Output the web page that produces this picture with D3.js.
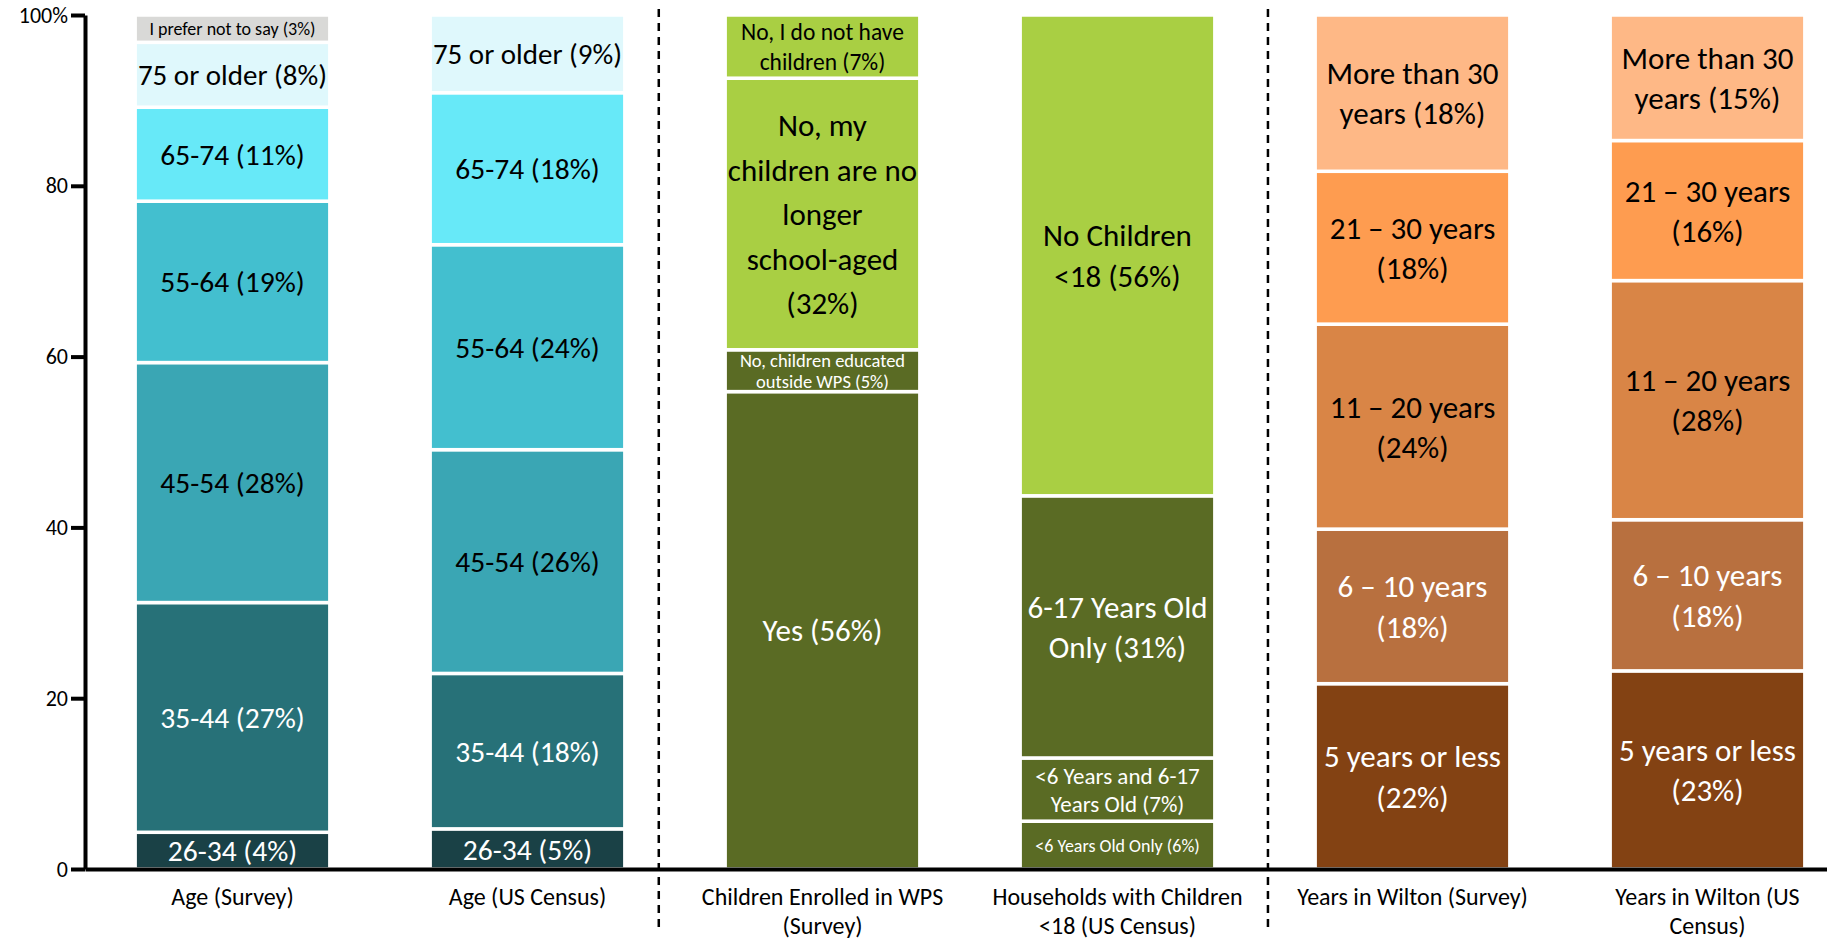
<!DOCTYPE html>
<html><head><meta charset="utf-8">
<script src="https://cdn.jsdelivr.net/npm/d3@7"></script>
<style>
body{margin:0;background:#fff;}
text{font-family:Carlito, Lato, "Open Sans", sans-serif;}
</style>
</head><body>
<svg id="c" width="1827" height="941"></svg>
<script>
// ---------- data ----------
const categories = ["Age (Survey)","Age (US Census)","Children Enrolled in WPS (Survey)","Households with Children <18 (US Census)","Years in Wilton (Survey)","Years in Wilton (US Census)"];
const categoryLines = [["Age (Survey)"],["Age (US Census)"],["Children Enrolled in WPS","(Survey)"],["Households with Children","<18 (US Census)"],["Years in Wilton (Survey)"],["Years in Wilton (US","Census)"]];
const yTicks = [0,20,40,60,80,100];
const separatorsAt = [1.445, 3.51]; // in category-index units

// segments listed bottom to top
const ageSurveyValues = [4.3, 26.9, 28.1, 18.9, 11.0, 7.6, 3.2];
const ageSurveyLabels = ["26-34 (4%)","35-44 (27%)","45-54 (28%)","55-64 (19%)","65-74 (11%)","75 or older (8%)","I prefer not to say (3%)"];

const ageCensusValues = [4.7, 18.2, 26.2, 24.0, 17.8, 9.1];
const ageCensusLabels = ["26-34 (5%)","35-44 (18%)","45-54 (26%)","55-64 (24%)","65-74 (18%)","75 or older (9%)"];

const childrenValues = [55.9, 4.9, 31.8, 7.4];
const childrenLabels = ["Yes (56%)","No, children educated\noutside WPS (5%)","No, my\nchildren are no\nlonger\nschool-aged\n(32%)","No, I do not have\nchildren (7%)"];

const householdValues = [5.6, 7.4, 30.7, 56.3];
const householdLabels = ["<6 Years Old Only (6%)","<6 Years and 6-17\nYears Old (7%)","6-17 Years Old\nOnly (31%)","No Children\n<18 (56%)"];

const yearsSurveyValues = [21.7, 18.1, 24.0, 17.9, 18.3];
const yearsSurveyLabels = ["5 years or less\n(22%)","6 – 10 years\n(18%)","11 – 20 years\n(24%)","21 – 30 years\n(18%)","More than 30\nyears (18%)"];

const yearsCensusValues = [23.2, 17.7, 28.0, 16.4, 14.7];
const yearsCensusLabels = ["5 years or less\n(23%)","6 – 10 years\n(18%)","11 – 20 years\n(28%)","21 – 30 years\n(16%)","More than 30\nyears (15%)"];

// ---------- styles ----------
const ageColors = ["#1a4146","#277178","#3aa6b4","#43bfcf","#67e9f8","#dff8fc","#d9d9d7"];
const ageText   = ["#fff","#fff","#000","#000","#000","#000","#000"];
const childColors = ["#5a6b24","#5a6b24","#a9cf43","#a9cf43"];
const childText   = ["#fff","#fff","#000","#000"];
const houseColors = ["#5a6b24","#5a6b24","#5a6b24","#a9cf43"];
const houseText   = ["#fff","#fff","#fff","#000"];
const yearColors = ["#834213","#b8703f","#d98546","#fe9c50","#feb886"];
const yearText   = ["#fff","#fff","#000","#000","#000"];
const seriesFont = [29.5, 29.5, 31, 31, 31, 31];
const specialFont = {
  "I prefer not to say (3%)":[18,1.2],
  "No, children educated\noutside WPS (5%)":[18.5,1.15],
  "No, I do not have\nchildren (7%)":[23.5,1.25],
  "<6 Years and 6-17\nYears Old (7%)":[23,1.22],
  "<6 Years Old Only (6%)":[18,1.2],
  "No, my\nchildren are no\nlonger\nschool-aged\n(32%)":[31,1.44],
  "75 or older (8%)":[29,1.3],
  "75 or older (9%)":[29,1.3]
};

const series = [
  {values:ageSurveyValues, labels:ageSurveyLabels, colors:ageColors, text:ageText},
  {values:ageCensusValues, labels:ageCensusLabels, colors:ageColors, text:ageText},
  {values:childrenValues, labels:childrenLabels, colors:childColors, text:childText},
  {values:householdValues, labels:householdLabels, colors:houseColors, text:houseText},
  {values:yearsSurveyValues, labels:yearsSurveyLabels, colors:yearColors, text:yearText},
  {values:yearsCensusValues, labels:yearsCensusLabels, colors:yearColors, text:yearText}
];

// ---------- chart ----------
const svg = d3.select("#c");
const y = d3.scaleLinear().domain([0,100]).range([869,15]);
const x = d3.scaleBand().domain(categories).range([85,1855]).paddingInner(0.34).paddingOuter(0.17);
const bw = x.bandwidth();
const xc = d3.scaleLinear().domain([0, categories.length-1])
  .range([x(categories[0])+bw/2, x(categories[categories.length-1])+bw/2]);

// dashed separators
svg.selectAll("line.sep").data(separatorsAt).join("line")
  .attr("class","sep")
  .attr("x1",d=>xc(d)).attr("x2",d=>xc(d))
  .attr("y1",9).attr("y2",930)
  .attr("stroke","#000").attr("stroke-width",2.5).attr("stroke-dasharray","8,6");

// bars
series.forEach((s,i)=>{
  let acc = 0;
  const segs = s.values.map((v,j)=>{ const o={y0:acc,y1:acc+v,label:s.labels[j],fill:s.colors[j],tc:s.text[j]}; acc+=v; return o; });
  const g = svg.append("g").attr("transform",`translate(${x(categories[i])},0)`);
  g.selectAll("rect").data(segs).join("rect")
    .attr("x",0).attr("width",bw)
    .attr("y",d=>y(d.y1)).attr("height",d=>y(d.y0)-y(d.y1))
    .attr("fill",d=>d.fill).attr("stroke","#fff").attr("stroke-width",3.5);
  segs.forEach(d=>{
    const lines = d.label.split("\n");
    const sp = specialFont[d.label] || [seriesFont[i],1.3];
    const fs = sp[0];
    const lh = fs*sp[1];
    const yc = (y(d.y0)+y(d.y1))/2;
    const t = g.append("text").attr("text-anchor","middle").attr("font-size",fs).attr("fill",d.tc);
    lines.forEach((ln,k)=>{
      t.append("tspan").attr("x",bw/2).attr("y", yc - (lines.length-1)*lh/2 + k*lh + 0.36*fs).text(ln);
    });
  });
});

// y axis
const ya = svg.append("g").attr("transform","translate(85,0)")
  .call(d3.axisLeft(y).tickValues(yTicks).tickSize(14).tickSizeOuter(0).tickPadding(3)
    .tickFormat(d=> d===100 ? "100%" : d));
ya.select(".domain").attr("stroke-width",4);
ya.selectAll(".tick line").attr("stroke-width",4);
ya.selectAll(".tick text").attr("font-size",22).attr("font-family","Carlito, Lato, sans-serif").attr("fill","#000");

// x axis
const xa = svg.append("g").attr("transform",`translate(0,${y(0)})`)
  .call(d3.axisBottom(x).tickSize(0).tickSizeOuter(0));
xa.select(".domain").attr("stroke-width",4);
xa.selectAll(".tick text").each(function(d,i){
  const t = d3.select(this).text(null).attr("y",36).attr("dy",null)
    .attr("font-size",24).attr("font-family","Carlito, Lato, sans-serif").attr("fill","#000");
  categoryLines[i].forEach((ln,k)=>{
    t.append("tspan").attr("x",0).attr("dy", k===0?0:29).text(ln);
  });
});
</script>
</body></html>
